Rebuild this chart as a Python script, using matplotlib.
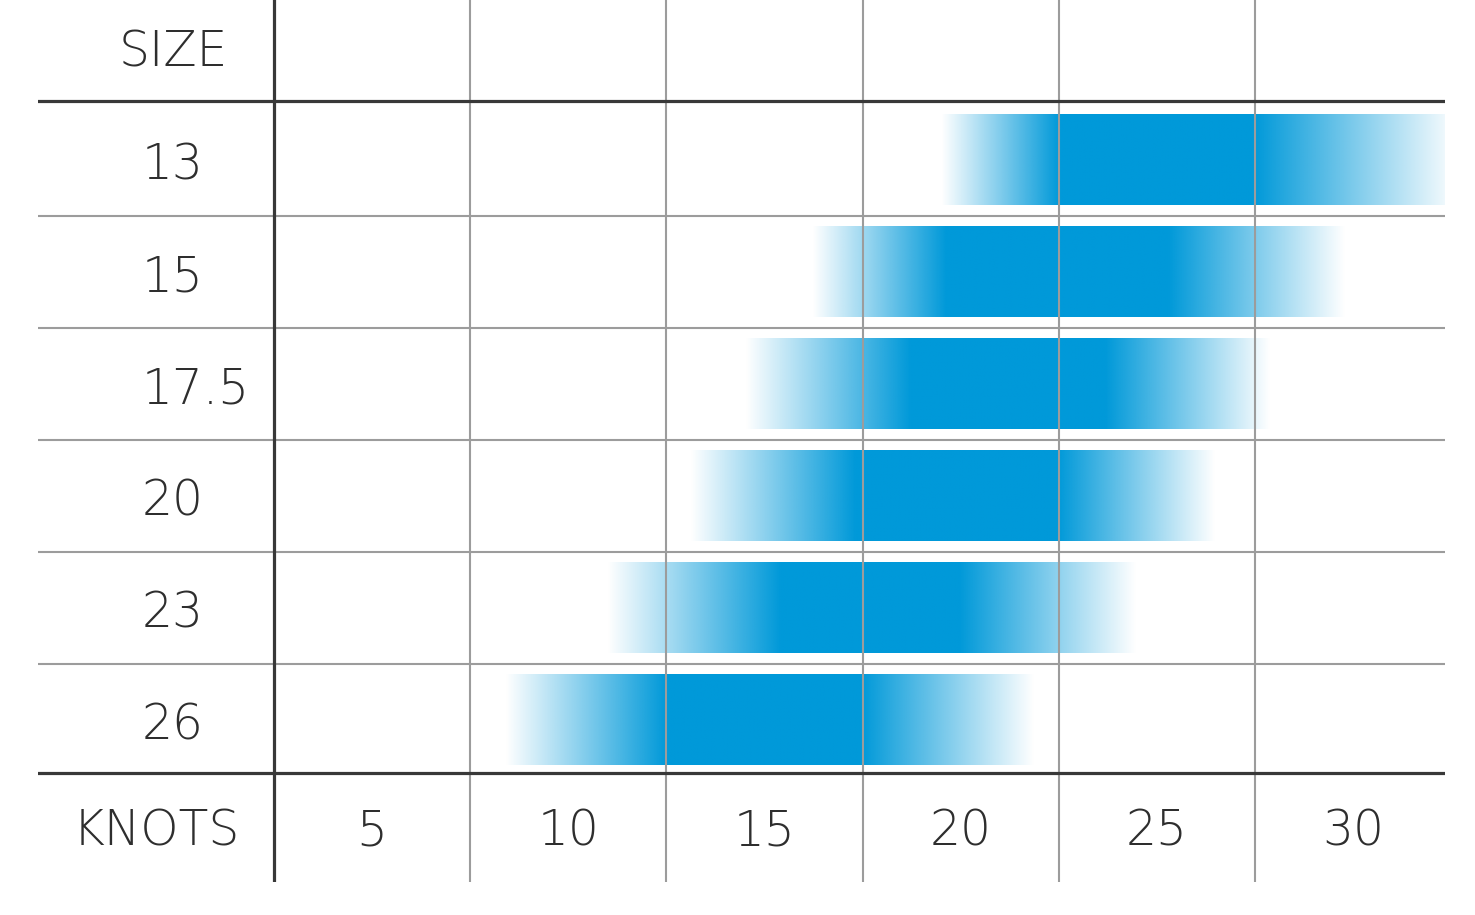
import matplotlib
matplotlib.use('Agg')
import matplotlib.pyplot as plt
import numpy as np
from matplotlib.colors import to_rgb

# kite sizes and their wind ranges (knots)
sizes = ['13', '15', '17.5', '20', '23', '26']
fade_start = [19.5, 16.2, 14.5, 13.1, 11.0, 8.4]
full_start = [22.5, 19.6, 18.7, 17.3, 15.4, 12.5]
full_end = [27.5, 25.3, 23.7, 22.5, 20.0, 17.5]
fade_end = [32.7, 29.8, 27.9, 26.5, 24.5, 21.9]
knots = [5, 10, 15, 20, 25, 30]

BLUE = '#0099d9'
DARK = '#383838'
GREY = '#9c9c9c'
FONT = dict(family='DejaVu Sans', fontweight=200, color='#2e2e2e', fontsize=35)

fig = plt.figure(figsize=(14.75, 9.15), dpi=100)
ax = fig.add_axes([38 / 1475, 33 / 915, 1407 / 1475, 882 / 915])

bar_h = 0.81
shift = 0.025
rgb = np.array(to_rgb(BLUE))
xs = np.linspace(0, 1, 400)
for i, s in enumerate(sizes):
    x0, x1 = fade_start[i], fade_end[i]
    xx = x0 + xs * (x1 - x0)
    alpha = np.interp(xx, [x0, full_start[i], full_end[i], x1], [0, 1, 1, 0])
    img = np.zeros((1, len(xs), 4))
    img[..., :3] = rgb
    img[..., 3] = alpha
    yc = i + shift
    ax.imshow(img, extent=(x0, x1, yc + bar_h / 2, yc - bar_h / 2),
              aspect='auto', interpolation='bilinear', zorder=1)

# grid
for b in np.arange(0.5, len(sizes) - 1, 1.0):
    ax.axhline(b + shift, color=GREY, lw=1.5, zorder=2)
ax.axhline(-0.5, color=DARK, lw=2.3, zorder=3)
ax.axhline(len(sizes) - 0.5, color=DARK, lw=2.3, zorder=3)
for k in knots[:-1]:
    ax.axvline(k + 2.5, color=GREY, lw=1.5, zorder=2)
ax.axvline(2.5, color=DARK, lw=2.3, zorder=3)

# labels
for i, s in enumerate(sizes):
    ax.text(-0.86, i + 0.08, s, ha='left', va='center', **FONT)
for k in knots:
    ax.text(k, 6.02, str(k), ha='center', va='center', **FONT)
ax.text(-0.07, -0.93, 'SIZE', ha='center', va='center', **FONT)
ax.text(-0.5, 6.02, 'KNOTS', ha='center', va='center', **FONT)

ax.set_xlim(-3.51, 32.34)
ax.set_ylim(6.473, -1.402)
ax.axis('off')

fig.savefig('out.png', dpi=100, facecolor='white')
